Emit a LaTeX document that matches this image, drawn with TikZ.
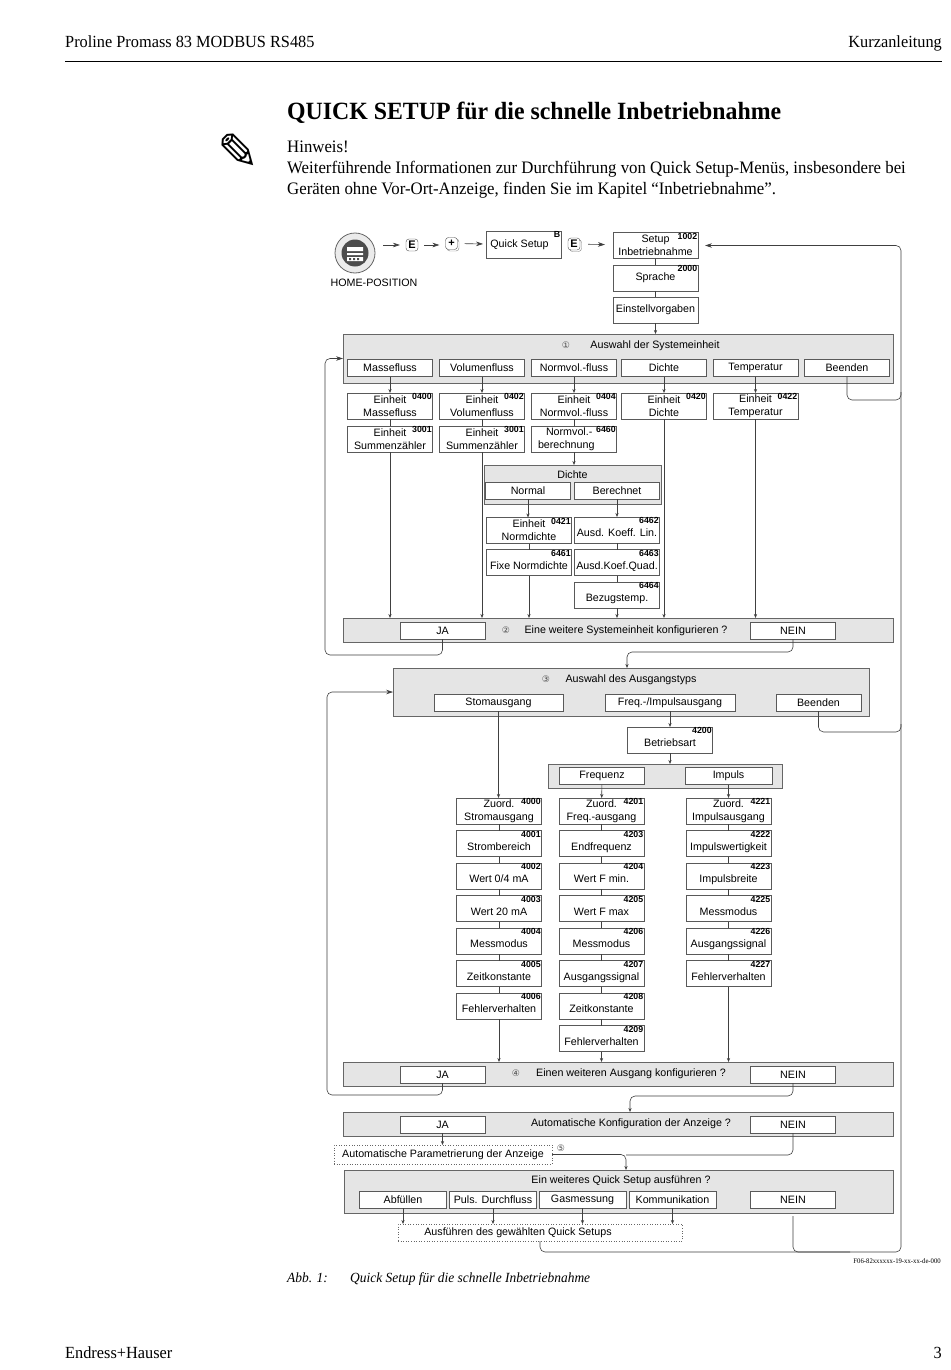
\documentclass[tikz,border=0pt]{standalone}
\usepackage{fontspec}
\setmainfont[FakeStretch=0.96]{Liberation Serif}
\newfontfamily\diagfont{Liberation Sans}
\newfontfamily\symfont{DejaVu Sans}
\usetikzlibrary{arrows.meta,shadows}
\tikzset{
  pagetext/.style={anchor=base west,inner sep=0pt,font=\fontsize{17.5}{20}\selectfont},
  panelbox/.style={draw=black!60,fill=black!10,line width=0.7pt,inner sep=0pt,outer sep=0pt},
  paneltext/.style={inner sep=0pt,font=\diagfont\fontsize{10.7}{13}\selectfont},
  panelsym/.style={inner sep=0pt,text=black!70,font=\symfont\fontsize{9}{11}\selectfont},
  menubox/.style={draw=black!65,fill=white,line width=0.6pt,minimum width=85pt,minimum height=26pt,
    inner sep=0pt,outer sep=0pt,align=center,font=\diagfont\fontsize{10.7}{13}\selectfont},
  menuone/.style={menubox,text height=15pt,text depth=2pt},
  choicebox/.style={menubox,minimum height=17pt},
  dotbox/.style={draw=black!60,dotted,line width=0.6pt,inner sep=0pt,outer sep=0pt,
    font=\diagfont\fontsize{10.7}{13}\selectfont},
  numtag/.style={anchor=north east,inner sep=0.6pt,font=\diagfont\bfseries\fontsize{8.8}{9}\selectfont},
  keybox/.style={draw=black!70,fill=white,rounded corners=3pt,minimum width=12pt,minimum height=12pt,
    inner sep=0pt,font=\diagfont\bfseries\fontsize{11}{12}\selectfont},
  keyshadow/.style={keybox,copy shadow={shadow xshift=1.5pt,shadow yshift=-1.5pt,draw=black!50,fill=white}},
  flowline/.style={draw=black!75,line width=0.6pt,rounded corners=5pt},
  flowarrow/.style={flowline,-{Stealth[length=4pt,width=3.2pt]}},
  bigarrow/.style={flowline,-{Stealth[length=7pt,width=4.6pt]}}
}
\begin{document}
\begin{tikzpicture}[x=1pt,y=-1pt]
  \path[use as bounding box,fill=white] (0,0) rectangle (950,1370);
  % page text
  \node[pagetext,font=\fontsize{17}{20}\selectfont] (headleft) at (65,48) {Proline Promass 83 MODBUS RS485};
  \node[pagetext,anchor=base east,font=\fontsize{17}{20}\selectfont] (headright) at (942,48) {Kurzanleitung};
  \draw[line width=0.9pt] (headleft.west |- 0,61) -- (headright.east |- 0,61);
  \node[pagetext,font=\bfseries\fontsize{24.8}{28}\selectfont] (pagetitle) at (287,120) {QUICK SETUP für die schnelle Inbetriebnahme};
  \node[inner sep=0pt,font=\symfont\fontsize{50}{52}\selectfont] (pencil) at (238,152) {✎};
  \node[pagetext] (hint) at (287,153) {Hinweis!};
  \node[pagetext] (hintone) at (287,173) {Weiterführende Informationen zur Durchführung von Quick Setup-Menüs, insbesondere bei};
  \node[pagetext] (hinttwo) at (287,194) {Geräten ohne Vor-Ort-Anzeige, finden Sie im Kapitel “Inbetriebnahme”.};
  \node[pagetext,font=\itshape\fontsize{14}{16}\selectfont] (capnum) at (287,1282) {Abb. 1:};
  \node[pagetext,font=\itshape\fontsize{14}{16}\selectfont] (captext) at (350,1282) {Quick Setup für die schnelle Inbetriebnahme};
  \node[pagetext,anchor=base east,font=\fontsize{7}{8}\selectfont] (figcode) at (941,1263) {F06-82xxxxxx-19-xx-xx-de-000};
  \node[pagetext,font=\fontsize{17}{20}\selectfont] (footleft) at (65,1358) {Endress+Hauser};
  \node[pagetext,anchor=base east,font=\fontsize{17}{20}\selectfont] (footright) at (942,1358) {3};
  % top row
  \node[circle,draw=black!60,fill=black!8,line width=0.8pt,minimum size=40pt,inner sep=0pt] (home) at (355,253) {};
  \node[circle,fill=black!70,minimum size=27pt,inner sep=0pt] (homedial) at (home.center) {};
  \fill[white] (347,247) rectangle (363,251) (347,253) rectangle (363,255) (347,257) rectangle (363,261);
  \fill[black!70] (349,258) rectangle (351,260) (353,258) rectangle (355,260) (357,258) rectangle (359,260);
  \node[paneltext] (hometext) at (374,282.5) {HOME-POSITION};
  \node[keybox] (keyone) at (412,245) {E};
  \node[keyshadow] (keytwo) at (451.5,243.5) {+};
  \node[menubox,minimum width=75pt,minimum height=27pt,label={[numtag]north east:B}] (quick) at (523.5,244.5) {\hspace*{-8pt}Quick Setup};
  \node[keyshadow] (keythree) at (574,244) {E};
  \node[menubox,label={[numtag]north east:1002}] (setup) at (655.5,245.5) {Setup\\Inbetriebnahme};
  \node[menubox,label={[numtag]north east:2000}] (sprache) at (655.5,278) {Sprache};
  \node[menubox] (vorgaben) at (655.5,310) {Einstellvorgaben};
  \draw[bigarrow,shorten <=8pt,shorten >=6pt] (home.east |- keyone) -- (keyone);
  \draw[bigarrow,shorten <=6pt,shorten >=6pt] (keyone) -- (keytwo.west |- keyone);
  \draw[bigarrow,shorten <=7pt,shorten >=3pt] (keytwo) -- (quick);
  \draw[bigarrow,shorten <=8pt,shorten >=8pt] (keythree) -- (setup);
  \draw[flowline] (setup) -- (sprache);
  \draw[flowline] (sprache) -- (vorgaben);
  % system unit
  \node[panelbox,minimum width=550pt,minimum height=49pt] (panelone) at (618,358.5) {};
  \node[panelsym] (symone) at (566,345) {①};
  \node[paneltext] (textone) at (655,346) {Auswahl der Systemeinheit};
  \node[choicebox] (masse) at (390,368) {Massefluss};
  \node[choicebox] (volumen) at (482,368) {Volumenfluss};
  \node[choicebox] (normvol) at (574,368) {Normvol.-fluss};
  \node[choicebox] (dichte) at (664,368) {Dichte};
  \node[choicebox] (temp) at (755.5,368) {Temperatur};
  \node[choicebox] (endone) at (847,368) {Beenden};
  \node[menubox,label={[numtag]north east:0400}] (unitmasse) at (390,406) {Einheit\\Massefluss};
  \node[menubox,label={[numtag]north east:0402}] (unitvol) at (482,406) {Einheit\\Volumenfluss};
  \node[menubox,label={[numtag]north east:0404}] (unitnorm) at (574,406) {Einheit\\Normvol.-fluss};
  \node[menubox,label={[numtag]north east:0420}] (unitdichte) at (664,406) {Einheit\\Dichte};
  \node[menubox,label={[numtag]north east:0422}] (unittemp) at (755.5,406) {Einheit\\Temperatur};
  \node[menubox,label={[numtag]north east:3001}] (summasse) at (390,439) {Einheit\\Summenzähler};
  \node[menubox,label={[numtag]north east:3001}] (sumvol) at (482,439) {Einheit\\Summenzähler};
  \node[menubox,text width=72pt,align=left,label={[numtag]north east:6460}] (normcalc) at (574,439) {\hspace*{8pt}Normvol.-\\berechnung};
  \node[panelbox,minimum width=177pt,minimum height=39pt] (paneldichte) at (572.5,484.5) {};
  \node[paneltext] (textdichte) at (572.5,474.5) {Dichte};
  \node[choicebox] (normal) at (528,490.5) {Normal};
  \node[choicebox] (berechnet) at (617,490.5) {Berechnet};
  \node[menubox,label={[numtag]north east:0421}] (normdichte) at (529,530.5) {Einheit\\Normdichte};
  \node[menuone,label={[numtag]north east:6461}] (fixedichte) at (529,562.5) {Fixe Normdichte};
  \node[menuone,label={[numtag]north east:6462}] (koefflin) at (617,530) {Ausd. Koeff. Lin.};
  \node[menuone,label={[numtag]north east:6463}] (koefquad) at (617,562.5) {Ausd.Koef.Quad.};
  \node[menuone,label={[numtag]north east:6464}] (bezug) at (617,595) {Bezugstemp.};
  \node[panelbox,minimum width=550pt,minimum height=24pt] (paneltwo) at (618,630) {};
  \node[choicebox] (jaone) at (442.5,630.5) {JA};
  \node[choicebox] (neinone) at (793,630.5) {NEIN};
  \node[panelsym] (symtwo) at (506,630) {②};
  \node[paneltext] (texttwo) at (626,631) {Eine weitere Systemeinheit konfigurieren ?};
  \draw[flowarrow] (vorgaben) -- (panelone.north -| vorgaben);
  \foreach \topbox/\lowbox in {masse/unitmasse,volumen/unitvol,normvol/unitnorm,dichte/unitdichte,temp/unittemp}
    \draw[flowarrow] (\topbox) -- (\lowbox);
  \foreach \topbox/\lowbox in {unitmasse/summasse,unitvol/sumvol,unitnorm/normcalc,normdichte/fixedichte,koefflin/koefquad,koefquad/bezug}
    \draw[flowline] (\topbox) -- (\lowbox);
  \draw[flowarrow] (normcalc) -- (paneldichte.north -| normcalc);
  \draw[flowarrow] (normal) -- (normdichte.north -| normal);
  \draw[flowarrow] (berechnet) -- (koefflin);
  \foreach \lowbox in {summasse,sumvol,fixedichte,bezug,unitdichte,unittemp}
    \draw[flowarrow] (\lowbox) -- (paneltwo.north -| \lowbox);
  % output type
  \coordinate (threein) at (627,668);
  \node[panelbox,minimum width=476pt,minimum height=48pt] (panelthree) at (631,692) {};
  \node[panelsym] (symthree) at (546,679) {③};
  \node[paneltext] (textthree) at (631,680) {Auswahl des Ausgangstyps};
  \node[choicebox,minimum width=129pt] (strom) at (498.5,702.5) {Stomausgang};
  \node[choicebox,minimum width=130pt] (frequ) at (670,702.5) {Freq.-/Impulsausgang};
  \node[choicebox] (endtwo) at (818.5,702.5) {Beenden};
  \node[menuone,label={[numtag]north east:4200}] (betrieb) at (670,740) {Betriebsart};
  \node[panelbox,minimum width=234pt,minimum height=24pt] (panelmode) at (665,776) {};
  \node[choicebox] (frequenz) at (602,776) {Frequenz};
  \node[choicebox,minimum width=87pt] (impuls) at (728.5,776) {Impuls};
  \node[menubox,label={[numtag]north east:4000}] (sa) at (499,811) {Zuord.\\Stromausgang};
  \node[menuone,label={[numtag]north east:4001}] (sb) at (499,843.5) {Strombereich};
  \node[menuone,label={[numtag]north east:4002}] (sc) at (499,876) {Wert 0/4 mA};
  \node[menuone,label={[numtag]north east:4003}] (sd) at (499,908.5) {Wert 20 mA};
  \node[menuone,label={[numtag]north east:4004}] (se) at (499,941) {Messmodus};
  \node[menuone,label={[numtag]north east:4005}] (sf) at (499,973.5) {Zeitkonstante};
  \node[menuone,label={[numtag]north east:4006}] (sg) at (499,1006) {Fehlerverhalten};
  \node[menubox,label={[numtag]north east:4201}] (fa) at (601.5,811) {Zuord.\\Freq.-ausgang};
  \node[menuone,label={[numtag]north east:4203}] (fb) at (601.5,843.5) {Endfrequenz};
  \node[menuone,label={[numtag]north east:4204}] (fc) at (601.5,876) {Wert F min.};
  \node[menuone,label={[numtag]north east:4205}] (fd) at (601.5,908.5) {Wert F max};
  \node[menuone,label={[numtag]north east:4206}] (fe) at (601.5,941) {Messmodus};
  \node[menuone,label={[numtag]north east:4207}] (ff) at (601.5,973.5) {Ausgangssignal};
  \node[menuone,label={[numtag]north east:4208}] (fg) at (601.5,1006) {Zeitkonstante};
  \node[menuone,label={[numtag]north east:4209}] (fh) at (601.5,1038.5) {Fehlerverhalten};
  \node[menubox,label={[numtag]north east:4221}] (ia) at (728.5,811) {Zuord.\\Impulsausgang};
  \node[menuone,label={[numtag]north east:4222}] (ib) at (728.5,843.5) {Impulswertigkeit};
  \node[menuone,label={[numtag]north east:4223}] (ic) at (728.5,876) {Impulsbreite};
  \node[menuone,label={[numtag]north east:4225}] (id) at (728.5,908.5) {Messmodus};
  \node[menuone,label={[numtag]north east:4226}] (ie) at (728.5,941) {Ausgangssignal};
  \node[menuone,label={[numtag]north east:4227}] (if) at (728.5,973.5) {Fehlerverhalten};
  \node[panelbox,minimum width=550pt,minimum height=24pt] (panelfour) at (618,1074) {};
  \node[choicebox] (jatwo) at (442.5,1074.5) {JA};
  \node[choicebox] (neintwo) at (793,1074.5) {NEIN};
  \node[panelsym] (symfour) at (516,1073) {④};
  \node[paneltext] (textfour) at (631,1074) {Einen weiteren Ausgang konfigurieren ?};
  \draw[flowarrow] (strom.south) -- (sa.north -| strom);
  \draw[flowarrow] (frequ) -- (betrieb);
  \draw[flowarrow] (betrieb) -- (panelmode.north -| betrieb);
  \draw[flowarrow] (frequenz) -- (fa);
  \draw[flowarrow] (impuls) -- (ia);
  \foreach \topbox/\lowbox in {sa/sb,sb/sc,sc/sd,sd/se,se/sf,sf/sg,fa/fb,fb/fc,fc/fd,fd/fe,fe/ff,ff/fg,fg/fh,ia/ib,ib/ic,ic/id,id/ie,ie/if}
    \draw[flowline] (\topbox) -- (\lowbox);
  \foreach \lowbox in {sg,fh,if}
    \draw[flowarrow] (\lowbox) -- (panelfour.north -| \lowbox);
  % display and further setups
  \coordinate (fivein) at (630,1112);
  \node[panelbox,minimum width=550pt,minimum height=24pt] (panelfive) at (618,1124) {};
  \node[choicebox] (jathree) at (442.5,1124.5) {JA};
  \node[choicebox] (neinthree) at (793,1124.5) {NEIN};
  \node[paneltext] (textfive) at (631,1124) {Automatische Konfiguration der Anzeige ?};
  \node[dotbox,minimum width=218pt,minimum height=19pt] (autopar) at (443,1154.5) {Automatische Parametrierung der Anzeige};
  \node[panelsym] (symfive) at (561,1148) {⑤};
  \coordinate (sixin) at (626,1170);
  \coordinate (sixknee) at (626,1155);
  \node[panelbox,minimum width=549pt,minimum height=43pt] (panelsix) at (618.5,1191.5) {};
  \node[paneltext] (textsix) at (621,1181) {Ein weiteres Quick Setup ausführen ?};
  \node[choicebox,minimum width=87pt] (fill) at (403,1199.5) {Abfüllen};
  \node[choicebox,minimum width=87pt] (puls) at (493,1199.5) {Puls. Durchfluss};
  \node[choicebox,minimum width=87pt] (gas) at (582.5,1199.5) {Gasmessung};
  \node[choicebox,minimum width=87pt] (komm) at (672.5,1199.5) {Kommunikation};
  \node[choicebox] (neinfour) at (793,1199.5) {NEIN};
  \node[dotbox,minimum width=284pt,minimum height=17pt] (runsetup) at (540,1232.5) {Ausführen des gewählten Quick Setups\hspace*{44pt}};
  \draw[flowarrow] (jathree) -- (autopar.north -| jathree);
  \draw[flowarrow] (autopar.east) -| (sixin);
  \draw[flowline] (neinthree.south) |- (sixknee);
  \foreach \topbox in {fill,puls,gas,komm}
    \draw[flowarrow] (\topbox) -- (runsetup.north -| \topbox);
  % return paths
  \coordinate (loopone) at (325,655);
  \coordinate (looptwo) at (327,1095);
  \coordinate (railone) at (901,400);
  \coordinate (railtwo) at (901,732);
  \coordinate (railend) at (901,1252);
  \coordinate (railjoin) at (850,1252);
  \coordinate (nextone) at (627,652);
  \coordinate (nexttwo) at (630,1096);
  \draw[bigarrow] (jaone.south) |- (loopone) |- (panelone.west);
  \draw[bigarrow] (jatwo.south) |- (looptwo) |- (panelthree.west);
  \draw[flowarrow] (neinone.south) |- (nextone) -- (threein);
  \draw[flowarrow] (neintwo.south) |- (nexttwo) -- (fivein);
  \draw[flowline] (endone.south) |- (railone) -- ++(0,-8);
  \draw[flowline] (endtwo.south) |- (railtwo) -- ++(0,-8);
  \draw[flowline,shorten <=8pt] (neinfour.south) |- (railjoin);
  \draw[bigarrow,shorten >=7pt] (runsetup.south) |- (railend) |- (setup.east);
\end{tikzpicture}
\end{document}
